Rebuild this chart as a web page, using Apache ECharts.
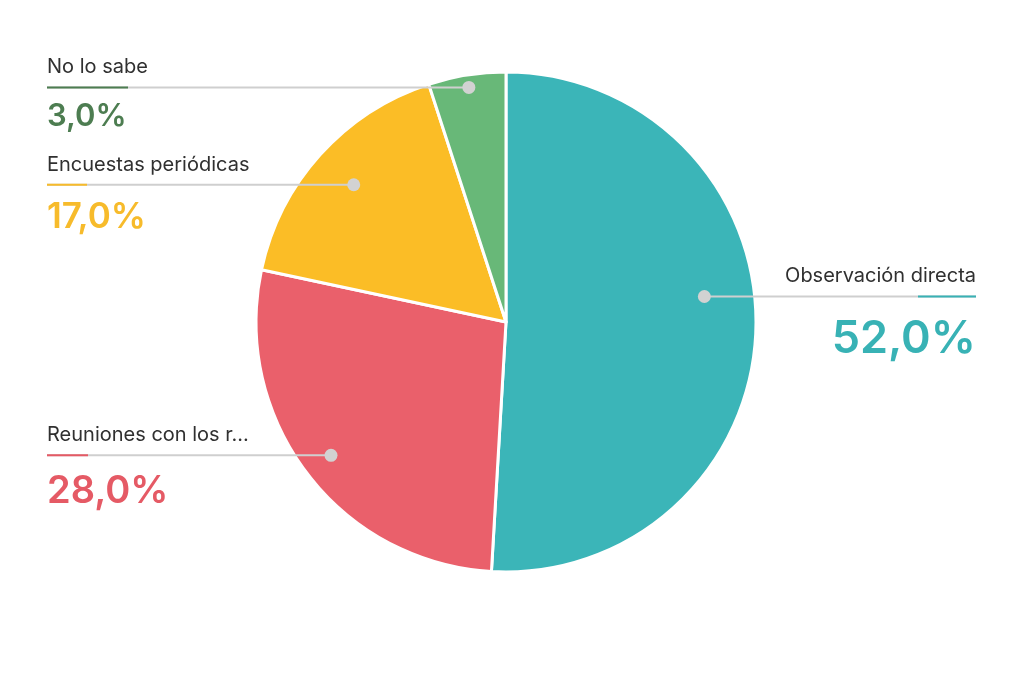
<!DOCTYPE html>
<html>
<head>
<meta charset="utf-8">
<script src="https://cdn.jsdelivr.net/npm/echarts@6/dist/echarts.min.js"></script>
<style>
html, body { margin: 0; background: #ffffff; }
#chart { width: 1024px; height: 683px; }
</style>
</head>
<body>
<div id="chart"></div>
<script>
// datos
var names = ['Observación directa', 'Reuniones con los r...', 'Encuestas periódicas', 'No lo sabe'];
var values = [52, 28, 17, 3];
var sliceColors = ['#3bb5b8', '#ea606b', '#fbbd26', '#68b878'];
var textColors = ['#38b2b5', '#e55a65', '#f7bb2b', '#4d7d51'];

// estilo / layout
var cx = 506, cy = 322, R = 250;
var dotRatio = [0.8, 0.88, 0.82, 0.95];   // donde va el punto dentro del sector
var dotTurn = [-9, 0, 0, 0];              // giro del punto respecto al angulo medio (grados)
var accentW = [58, 41, 40, 81];           // largo del trazo de color bajo el nombre
var NAME_LH = 38;

function pctSize(v) {
  return Math.round(30 + 0.28 * v);
}

function dotPos(params) {
  var p = params.labelLinePoints[0];
  var k = dotRatio[params.dataIndex];
  var a = Math.atan2(p[1] - cy, p[0] - cx) + dotTurn[params.dataIndex] * Math.PI / 180;
  var r = Math.sqrt((p[0] - cx) * (p[0] - cx) + (p[1] - cy) * (p[1] - cy)) * k;
  return [cx + r * Math.cos(a), cy + r * Math.sin(a)];
}

var sliceData = [];
var labelData = [];
var dotData = [];
for (var i = 0; i < names.length; i++) {
  var fs = pctSize(values[i]);
  var al = i === 0 ? 'right' : 'left';
  sliceData.push({ name: names[i], value: values[i], itemStyle: { color: sliceColors[i] } });
  labelData.push({
    name: names[i],
    value: values[i],
    label: {
      rich: {
        name: { fontFamily: 'Inter', fontSize: 20, color: '#303030', lineHeight: NAME_LH, align: al },
        bar: { backgroundColor: textColors[i], width: accentW[i], height: 2, lineHeight: 2, align: al },
        pct: { fontFamily: 'Inter', fontWeight: 600, fontSize: fs, lineHeight: (fs - 3) * 2, color: textColors[i], align: al }
      }
    }
  });
  dotData.push({ name: names[i], value: values[i] });
}

// las tres series comparten la misma geometria
function pieBase(z) {
  return {
    type: 'pie',
    z: z,
    center: [cx, cy],
    radius: R,
    startAngle: 90,
    clockwise: true,
    minAngle: 18,
    avoidLabelOverlap: false,
    emphasis: { disabled: true }
  };
}

var slices = pieBase(2);
slices.itemStyle = { borderColor: '#ffffff', borderWidth: 3 };
slices.label = { show: false };
slices.data = sliceData;

var texts = pieBase(5);
texts.silent = true;
texts.itemStyle = { color: 'rgba(0,0,0,0)', borderWidth: 0 };
texts.label = {
  show: true,
  position: 'outside',
  formatter: function (p) {
    return '{name|' + p.name + '}\n{bar|}\n{pct|' + p.percent.toFixed(1).replace('.', ',') + '%}';
  }
};
texts.labelLine = { show: true, length: 10, length2: 10, lineStyle: { color: '#cfcfcf', width: 2 } };
texts.labelLayout = function (params) {
  var d = dotPos(params);
  var left = d[0] < cx;
  var edge = left ? 47 : 976;
  return {
    x: edge,
    y: d[1] - NAME_LH - 1,
    align: left ? 'left' : 'right',
    verticalAlign: 'top',
    labelLinePoints: [d, [edge, d[1]]]
  };
};
texts.data = labelData;

var dots = pieBase(8);
dots.silent = true;
dots.itemStyle = { color: 'rgba(0,0,0,0)', borderWidth: 0 };
dots.label = {
  show: true,
  position: 'outside',
  formatter: '{dot|}',
  rich: { dot: { width: 13, height: 13, borderRadius: 7, backgroundColor: '#d2d2d2' } }
};
dots.labelLine = { show: true, length: 10, length2: 10, lineStyle: { opacity: 0 } };
dots.labelLayout = function (params) {
  var d = dotPos(params);
  return { x: d[0], y: d[1], align: 'center', verticalAlign: 'middle' };
};
dots.data = dotData;

var option = {
  backgroundColor: '#ffffff',
  animation: false,
  series: [slices, texts, dots]
};

var myChart = echarts.init(document.getElementById('chart'));
myChart.setOption(option);
</script>
</body>
</html>
